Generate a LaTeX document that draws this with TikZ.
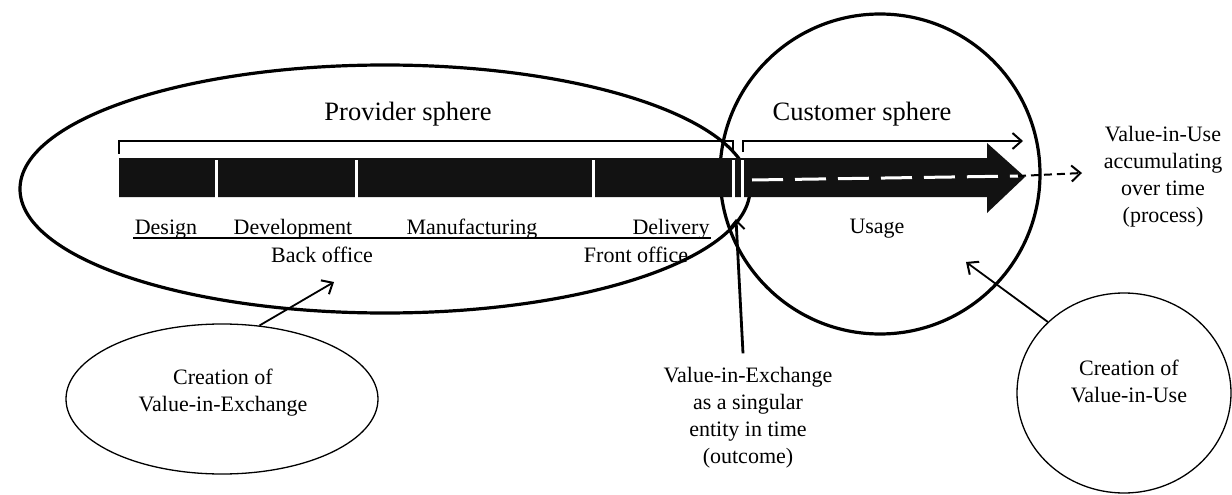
\documentclass[tikz,border=0pt]{standalone}
\usepackage{fontspec}
\setmainfont{Liberation Serif}
\usetikzlibrary{shapes.geometric,arrows.meta}
\begin{document}
\begin{tikzpicture}[x=1pt,y=-1pt,
  lbl/.style={font=\fontsize{22}{27}\selectfont, inner sep=0pt, align=center},
  big/.style={font=\fontsize{26.5}{30}\selectfont, inner sep=0pt},
  sphere/.style={draw, line width=3.2pt, inner sep=0pt},
  thinshape/.style={draw, line width=1.3pt, inner sep=0pt},
  barb/.style={-{Straight Barb[length=9pt,width=16pt,line width=2pt]}},
  divider/.style={white, line width=3pt},
  bracket/.style={line width=2.6pt},
  thinarrow/.style={line width=1.8pt, barb},
]
\useasboundingbox (0,0) rectangle (1232,495);
\fill[white] (0,0) rectangle (1232,495);

% spheres
\node[sphere, ellipse, minimum width=730pt, minimum height=248pt] (prov) at (385,189) {};
\node[sphere, circle, minimum size=320pt] (cust) at (880,174) {};

% black process bar with arrow head
\fill[black!93] (119,158) -- (987,158) -- (987,143) -- (1025,177) -- (987,213) -- (987,197) -- (119,197) -- cycle;
\foreach \x in {216,356,593,733,742} \draw[divider] (\x,160) -- (\x,204);
\draw[white, line width=3pt, dash pattern=on 31pt off 12pt] (752,180) -- (1018,176);
\coordinate (dtip) at (1082,173);
\draw[line width=2pt, dash pattern=on 8pt off 5pt, barb] (1018,176) -- (dtip);

% brackets
\draw[bracket, line cap=rect] (119,153) -- (119,141) -- (733,141) -- (733,152);
\coordinate (ctip) at (1023,141);
\draw[bracket, barb] (743,152) -- (743,141) -- (ctip);

% titles
\node[big, anchor=base] (ptitle) at (408,120) {Provider sphere};
\node[big, anchor=base] (ctitle) at (862,121) {Customer sphere};

% stage labels
\node[lbl, anchor=base] (design) at (166,234) {Design};
\node[lbl, anchor=base] (devel) at (293,234) {Development};
\node[lbl, anchor=base] (manuf) at (472,234) {Manufacturing};
\node[lbl, anchor=base] (deliv) at (671,234) {Delivery};
\draw[line width=1.5pt] (133,238) -- (711,238);
\node[lbl, anchor=base] (back) at (322,262) {Back office};
\node[lbl, anchor=base] (front) at (636,262) {Front office};
\node[lbl, anchor=base] (usage) at (877,233) {Usage};

\node[lbl] (viu) at (1163,177) {Value-in-Use\\accumulating\\over time\\(process)};

% value in exchange label
\node[lbl] (vie) at (748,418) {Value-in-Exchange\\as a singular\\entity in time\\(outcome)};
\coordinate (vex) at (736,219);
\draw[line width=2.8pt, -{Straight Barb[length=9pt,width=16pt,line width=2pt]}] ([xshift=-5pt,yshift=14pt]vie.north) -- (vex);

% creation of value-in-exchange
\node[thinshape, ellipse, minimum width=312pt, minimum height=150pt] (cve) at (222,399) {};
\node[lbl] (cvetext) at (223,393) {Creation of\\Value-in-Exchange};
\coordinate (bo) at (334,282);
\draw[thinarrow] (cve.63) -- (bo);

% creation of value-in-use
\node[thinshape, ellipse, minimum width=214pt, minimum height=200pt] (cvu) at (1124,393) {};
\node[lbl] (cvutext) at (1129,381) {Creation of\\Value-in-Use};
\coordinate (us) at (966,262);
\draw[thinarrow] (cvu.137) -- (us);
\end{tikzpicture}
\end{document}
